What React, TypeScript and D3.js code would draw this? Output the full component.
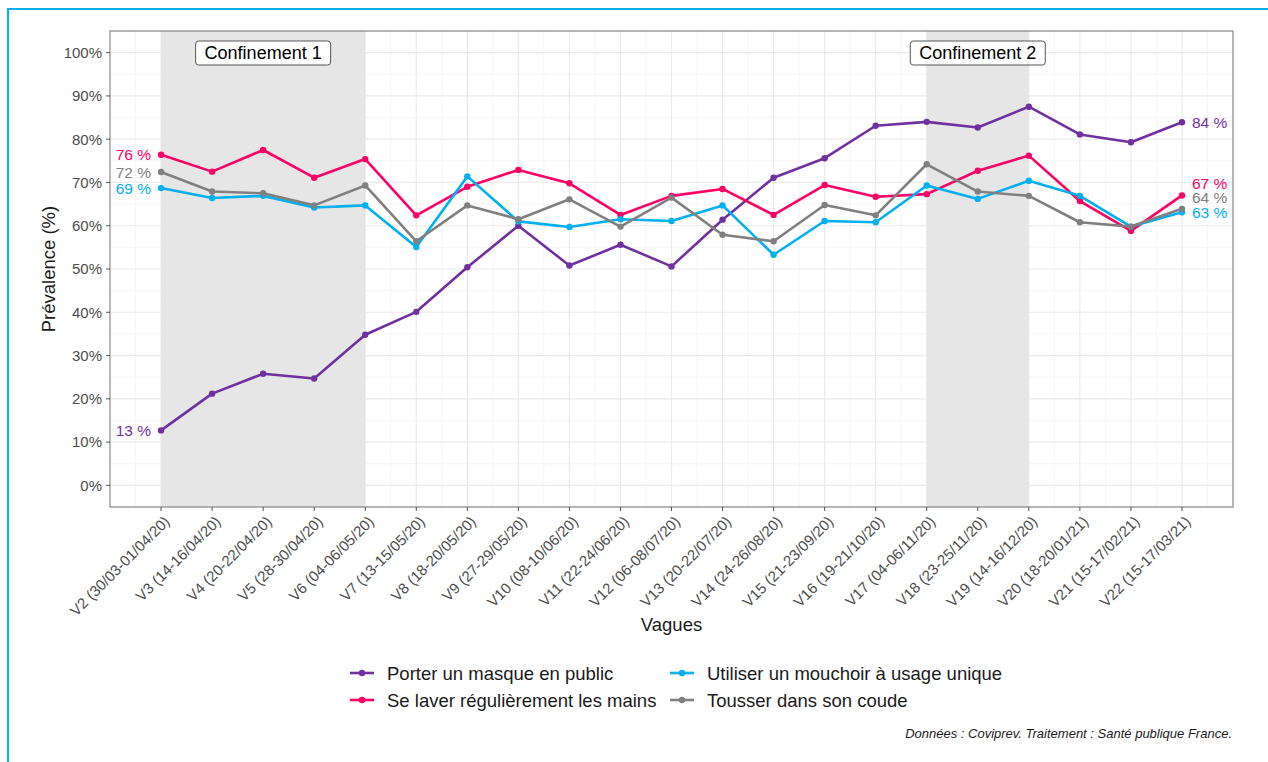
import React from "react";
import * as d3 from "d3";

const waves = [
  "V2 (30/03-01/04/20)", "V3 (14-16/04/20)", "V4 (20-22/04/20)", "V5 (28-30/04/20)",
  "V6 (04-06/05/20)", "V7 (13-15/05/20)", "V8 (18-20/05/20)", "V9 (27-29/05/20)",
  "V10 (08-10/06/20)", "V11 (22-24/06/20)", "V12 (06-08/07/20)", "V13 (20-22/07/20)",
  "V14 (24-26/08/20)", "V15 (21-23/09/20)", "V16 (19-21/10/20)", "V17 (04-06/11/20)",
  "V18 (23-25/11/20)", "V19 (14-16/12/20)", "V20 (18-20/01/21)", "V21 (15-17/02/21)",
  "V22 (15-17/03/21)",
];

const masque = [12.7, 21.2, 25.8, 24.7, 34.8, 40.1, 50.4, 60.0, 50.8, 55.6, 50.6, 61.4, 71.1, 75.6, 83.1, 84.0, 82.7, 87.5, 81.1, 79.3, 83.9];
const mains = [76.4, 72.5, 77.5, 71.1, 75.4, 62.4, 69.0, 72.9, 69.8, 62.5, 66.9, 68.5, 62.5, 69.4, 66.7, 67.3, 72.7, 76.2, 65.7, 58.8, 67.0];
const mouchoir = [68.7, 66.4, 66.9, 64.2, 64.7, 55.1, 71.4, 61.0, 59.7, 61.5, 61.1, 64.7, 53.3, 61.1, 60.8, 69.3, 66.2, 70.4, 66.9, 59.8, 63.1];
const coude = [72.4, 67.9, 67.5, 64.7, 69.3, 56.4, 64.7, 61.5, 66.1, 59.8, 66.5, 57.9, 56.4, 64.8, 62.4, 74.2, 67.9, 66.9, 60.8, 59.8, 63.9];

const seriesNames = [
  "Porter un masque en public",
  "Se laver régulièrement les mains",
  "Utiliser un mouchoir à usage unique",
  "Tousser dans son coude",
];
const seriesColors = ["#7030a0", "#ff0066", "#00b0f0", "#808080"];
const seriesValues = [masque, mains, mouchoir, coude];

const yTicks = [0, 10, 20, 30, 40, 50, 60, 70, 80, 90, 100];

const confinements = [
  { label: "Confinement 1", start: 0, end: 4 },
  { label: "Confinement 2", start: 15, end: 17 },
];

const FONT = "'Liberation Sans', Arial, Helvetica, sans-serif";

export default function App() {
  const W = 1268, H = 762;
  const L = 110, R = 1233, T = 31, B = 507;
  const x = d3.scaleLinear().domain([-1, waves.length]).range([L, R]);
  const y = d3.scaleLinear().domain([-5, 105]).range([B, T]);
  const line = d3.line<number>().x((_, i) => x(i)).y((v) => y(v));

  const minorX: number[] = [];
  for (let i = -0.5; i < waves.length; i += 1) minorX.push(i);
  const minorY: number[] = [];
  for (let v = -5; v <= 105; v += 10) minorY.push(v);

  const last = waves.length - 1;
  const repel = (vals: number[]) => {
    const items = vals.map((v, k) => ({ k, v, py: y(v) }));
    items.sort((a, b) => b.py - a.py);
    let prev = Infinity;
    items.forEach((it) => {
      it.py = Math.min(it.py, prev - 14.5);
      prev = it.py;
    });
    return items;
  };
  const leftLabels = repel(seriesValues.map((s) => s[0]));
  const rightLabels = repel(seriesValues.map((s) => s[last]));

  const legendItems = [
    { k: 0, col: 0, row: 0 },
    { k: 1, col: 0, row: 1 },
    { k: 2, col: 1, row: 0 },
    { k: 3, col: 1, row: 1 },
  ];
  const legendColX = [350, 670];
  const legendRowY = [673, 700];

  return (
    <svg width={W} height={H} style={{ position: "absolute", left: 0, top: 0, background: "#fff" }} fontFamily={FONT}>
      <rect x={0} y={0} width={W} height={H} fill="#fff" />
      <line x1={7} y1={9} x2={W} y2={9} stroke="#00b0f0" strokeWidth={2} />
      <line x1={8} y1={8} x2={8} y2={H} stroke="#00b0f0" strokeWidth={2} />

      {/* grid */}
      {minorY.map((v) => (
        <line key={"my" + v} x1={L} x2={R} y1={y(v)} y2={y(v)} stroke="#f2f2f2" strokeWidth={0.8} />
      ))}
      {minorX.map((v) => (
        <line key={"mx" + v} y1={T} y2={B} x1={x(v)} x2={x(v)} stroke="#f2f2f2" strokeWidth={0.8} />
      ))}
      {yTicks.map((v) => (
        <line key={"gy" + v} x1={L} x2={R} y1={y(v)} y2={y(v)} stroke="#ebebeb" strokeWidth={1.2} />
      ))}
      {waves.map((_, i) => (
        <line key={"gx" + i} y1={T} y2={B} x1={x(i)} x2={x(i)} stroke="#ebebeb" strokeWidth={1.2} />
      ))}

      {/* confinement shading */}
      {confinements.map((c) => (
        <rect key={c.label} x={x(c.start)} width={x(c.end) - x(c.start)} y={T} height={B - T} fill="#e6e6e6" />
      ))}

      {/* series */}
      {seriesValues.map((vals, k) => (
        <g key={"s" + k}>
          <path d={line(vals) || ""} fill="none" stroke={seriesColors[k]} strokeWidth={2.6} strokeLinejoin="round" />
          {vals.map((v, i) => (
            <circle key={i} cx={x(i)} cy={y(v)} r={3.2} fill={seriesColors[k]} />
          ))}
        </g>
      ))}

      {/* end labels */}
      {leftLabels.map((it) => (
        <text key={"ll" + it.k} x={x(0) - 10} y={it.py} dy="0.36em" textAnchor="end" fontSize={15.5} fill={seriesColors[it.k]}>
          {Math.round(it.v) + " %"}
        </text>
      ))}
      {rightLabels.map((it) => (
        <text key={"rl" + it.k} x={x(last) + 10} y={it.py} dy="0.36em" textAnchor="start" fontSize={15.5} fill={seriesColors[it.k]}>
          {Math.round(it.v) + " %"}
        </text>
      ))}

      {/* confinement labels */}
      {confinements.map((c) => {
        const cx = x((c.start + c.end) / 2);
        const w = 135;
        return (
          <g key={"cl" + c.label}>
            <rect x={cx - w / 2} y={41} width={w} height={24} rx={3} ry={3} fill="#fff" stroke="#555" strokeWidth={1} />
            <text x={cx} y={53} dy="0.36em" textAnchor="middle" fontSize={18} fill="#000">
              {c.label}
            </text>
          </g>
        );
      })}

      {/* panel border */}
      <rect x={L} y={T} width={R - L} height={B - T} fill="none" stroke="#888" strokeWidth={1.2} />

      {/* y axis */}
      {yTicks.map((v) => (
        <g key={"yt" + v}>
          <line x1={L - 4} x2={L} y1={y(v)} y2={y(v)} stroke="#555" strokeWidth={1} />
          <text x={L - 8} y={y(v)} dy="0.36em" textAnchor="end" fontSize={15} fill="#4d4d4d">
            {v + "%"}
          </text>
        </g>
      ))}
      <text transform={`translate(55, ${(T + B) / 2}) rotate(-90)`} textAnchor="middle" fontSize={18.5} fill="#1a1a1a">
        Prévalence (%)
      </text>

      {/* x axis */}
      {waves.map((w, i) => (
        <g key={"xt" + i}>
          <line x1={x(i)} x2={x(i)} y1={B} y2={B + 4} stroke="#555" strokeWidth={1} />
          <text
            transform={`translate(${x(i) + 2}, ${B + 8}) rotate(-45)`}
            dy="0.71em"
            textAnchor="end"
            fontSize={15}
            fill="#4d4d4d"
          >
            {w}
          </text>
        </g>
      ))}
      <text x={(L + R) / 2} y={631} textAnchor="middle" fontSize={18.5} fill="#1a1a1a">
        Vagues
      </text>

      {/* legend */}
      {legendItems.map((it) => {
        const lx = legendColX[it.col];
        const ly = legendRowY[it.row];
        return (
          <g key={"lg" + it.k}>
            <line x1={lx} x2={lx + 24} y1={ly} y2={ly} stroke={seriesColors[it.k]} strokeWidth={2.6} />
            <circle cx={lx + 12} cy={ly} r={3.2} fill={seriesColors[it.k]} />
            <text x={lx + 37} y={ly} dy="0.36em" fontSize={18.5} fill="#1a1a1a">
              {seriesNames[it.k]}
            </text>
          </g>
        );
      })}

      <text x={1232} y={737.5} textAnchor="end" fontSize={13} fontStyle="italic" fill="#1a1a1a">
        Données : Coviprev. Traitement : Santé publique France.
      </text>
    </svg>
  );
}
